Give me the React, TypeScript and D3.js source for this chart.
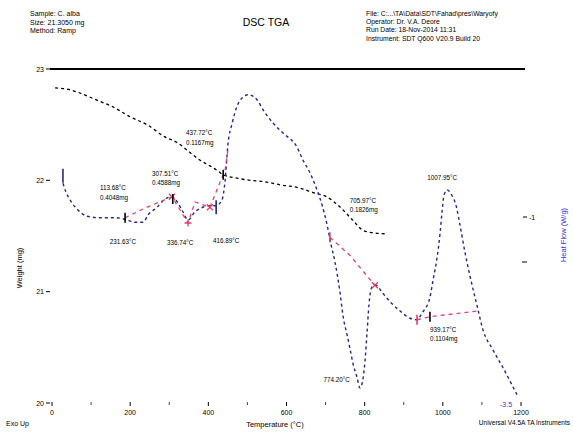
import React from "react";
import * as d3 from "d3";

// Weight curve (°C, mg)
const weightT = [8, 38, 67, 115, 156, 200, 243, 289, 320, 353, 379, 404, 422, 438, 473, 507, 540, 583, 635, 668, 704, 737, 770, 796, 819, 852];
const weightV = [22.83, 22.82, 22.79, 22.72, 22.66, 22.57, 22.5, 22.39, 22.34, 22.25, 22.18, 22.13, 22.09, 22.05, 22.02, 22.0, 21.99, 21.96, 21.93, 21.89, 21.85, 21.76, 21.64, 21.55, 21.53, 21.52];

// Heat flow curve (°C, W/g)
const hfT = [28, 36, 46, 67, 90, 123, 161, 187, 212, 233, 246, 269, 289, 307, 322, 335, 348, 366, 386, 404, 420, 435, 443, 450, 461, 473, 489, 502, 525, 540, 566, 591, 627, 642, 660, 678, 691, 704, 714, 724, 737, 745, 755, 763, 770, 780, 788, 796, 801, 806, 811, 819, 829, 844, 865, 890, 916, 934, 947, 967, 975, 985, 993, 998, 1003, 1011, 1023, 1034, 1044, 1057, 1070, 1087, 1103, 1128, 1154, 1180, 1190];
const hfV = [-0.55, -0.67, -0.77, -0.91, -0.99, -1.01, -1.01, -1.03, -1.07, -1.07, -0.97, -0.87, -0.76, -0.73, -0.81, -0.93, -1.04, -0.93, -0.87, -0.85, -0.85, -0.77, -0.51, -0.04, 0.25, 0.47, 0.6, 0.63, 0.56, 0.43, 0.25, 0.12, -0.07, -0.24, -0.41, -0.64, -0.84, -1.11, -1.37, -1.6, -2.01, -2.33, -2.57, -2.77, -2.95, -3.13, -3.28, -3.15, -2.91, -2.55, -2.17, -1.93, -1.91, -2.0, -2.13, -2.25, -2.35, -2.37, -2.28, -2.07, -1.84, -1.55, -1.21, -0.93, -0.71, -0.64, -0.71, -0.85, -1.11, -1.48, -1.8, -2.17, -2.51, -2.77, -3.01, -3.27, -3.37];

// Red analysis segments (°C, W/g)
const redSegT = [
  [187, 238, 289, 307, 348, 366, 404, 443, 450],
  [711, 762, 826],
  [934, 967, 1031, 1095],
];
const redSegV = [
  [-1.01, -0.88, -0.77, -0.73, -1.08, -0.8, -0.87, -0.37, -0.11],
  [-1.27, -1.51, -1.91],
  [-2.37, -2.33, -2.29, -2.25],
];

// Markers
const crossT = [307, 404, 826];
const crossV = [-0.73, -0.87, -1.91];
const plusT = [348];
const plusV = [-1.08];
const barBlackT = [187, 309, 967];
const barBlackV = [-1.01, -0.76, -2.33];
const barRedT = [711, 934];
const barRedV = [-1.27, -2.37];
const barBlueT = [28, 420];
const barBlueV = [-0.45, -0.87];

// Annotations
const annT = [123, 256, 148, 294, 412, 343, 762, 762, 960, 967];
const annV = [-0.64, -0.453, -1.36, -1.373, -1.347, 0.093, -0.813, -3.2, -0.507, -2.533];
const annText = [
  ["113.68°C", "0.4048mg"],
  ["307.51°C", "0.4588mg"],
  ["231.63°C"],
  ["336.74°C"],
  ["416.89°C"],
  ["437.72°C", "0.1167mg"],
  ["705.97°C", "0.1826mg"],
  ["774.20°C"],
  ["1007.95°C"],
  ["939.17°C", "0.1104mg"],
];
const annAnchorEnd = [false, false, false, false, false, false, false, true, false, false];

// Axes
const xMajor = [0, 200, 400, 600, 800, 1000, 1200];
const xMinor = [100, 300, 500, 700, 900, 1100];
const weightTicks = [20, 21, 22, 23];
const hfTicks = [-1];
const hfMinor = [-1.6];

const headerLeft = ["Sample: C. alba", "Size: 21.3050 mg", "Method: Ramp"];
const headerRight = [
  "File: C:...\\TA\\Data\\SDT\\Fahad\\pres\\Waryofy",
  "Operator: Dr. V.A. Deore",
  "Run Date: 18-Nov-2014 11:31",
  "Instrument: SDT Q600 V20.9 Build 20",
];

const FONT = "'Liberation Sans', Arial, sans-serif";

export default function App() {
  const x = d3.scaleLinear().domain([0, 1200]).range([52, 521]);
  const yW = d3.scaleLinear().domain([20, 23]).range([403, 69]);
  const yH = d3.scaleLinear().domain([-1, -2]).range([217, 292]);

  const wLine = d3
    .line<number>()
    .x((_, i) => x(weightT[i]))
    .y((d) => yW(d))
    .curve(d3.curveMonotoneX);
  const hLine = d3
    .line<number>()
    .x((_, i) => x(hfT[i]))
    .y((d) => yH(d))
    .curve(d3.curveMonotoneX);

  const navy = "#26268a";
  const red = "#d8436a";

  return (
    <svg
      width={573}
      height={432}
      style={{ position: "absolute", left: 0, top: 0, background: "#fff" }}
      fontFamily={FONT}
    >
      {/* header */}
      {headerLeft.map((t, i) => (
        <text key={"hl" + i} x={30} y={16 + i * 8.5} fontSize={7}>
          {t}
        </text>
      ))}
      <text x={266} y={26} fontSize={10.5} textAnchor="middle">
        DSC TGA
      </text>
      {headerRight.map((t, i) => (
        <text key={"hr" + i} x={366} y={16 + i * 8.2} fontSize={6.8}>
          {t}
        </text>
      ))}

      {/* top frame line */}
      <line x1={50} x2={525} y1={69} y2={69} stroke="#000" strokeWidth={2} />

      {/* left axis */}
      {weightTicks.map((v) => (
        <g key={"wt" + v}>
          <line x1={46} x2={50} y1={yW(v)} y2={yW(v)} stroke="#000" strokeWidth={1} />
          <text x={44} y={yW(v) + 2.5} fontSize={7} textAnchor="end">
            {v}
          </text>
        </g>
      ))}
      <text
        transform={`translate(22,${268}) rotate(-90)`}
        fontSize={7.5}
        textAnchor="middle"
      >
        Weight (mg)
      </text>

      {/* right axis */}
      {hfTicks.map((v) => (
        <g key={"ht" + v}>
          <line x1={523} x2={527} y1={yH(v)} y2={yH(v)} stroke="#000" strokeWidth={1} />
          <text x={529} y={yH(v) + 2.5} fontSize={7}>
            {v}
          </text>
        </g>
      ))}
      {hfMinor.map((v) => (
        <line key={"hm" + v} x1={522} x2={527} y1={yH(v)} y2={yH(v)} stroke="#000" strokeWidth={1} />
      ))}
      <text x={500} y={407} fontSize={7} fill="#3535c8">
        -3.5
      </text>
      <text
        transform={`translate(566,${235}) rotate(-90)`}
        fontSize={7.5}
        textAnchor="middle"
        fill="#3535c8"
      >
        Heat Flow (W/g)
      </text>

      {/* bottom axis */}
      {xMinor.map((v) => (
        <line key={"xm" + v} x1={x(v)} x2={x(v)} y1={402} y2={405} stroke="#444" strokeWidth={1} />
      ))}
      {xMajor.map((v) => (
        <g key={"xt" + v}>
          <line x1={x(v)} x2={x(v)} y1={402} y2={406} stroke="#000" strokeWidth={1} />
          <text x={x(v)} y={415} fontSize={7} textAnchor="middle">
            {v}
          </text>
        </g>
      ))}
      <text x={275} y={427} fontSize={7.5} textAnchor="middle">
        Temperature (°C)
      </text>
      <text x={6} y={426} fontSize={7}>
        Exo Up
      </text>
      <text x={570} y={425} fontSize={6.5} textAnchor="end">
        Universal V4.5A TA Instruments
      </text>

      {/* curves */}
      <path d={wLine(weightV) || ""} fill="none" stroke="#000" strokeWidth={1.3} strokeDasharray="3,3" />
      <path d={hLine(hfV) || ""} fill="none" stroke={navy} strokeWidth={1.4} strokeDasharray="3,3" />
      {redSegV.map((seg, si) => (
        <path
          key={"rs" + si}
          d={
            d3
              .line<number>()
              .x((_, i) => x(redSegT[si][i]))
              .y((d) => yH(d))(seg) || ""
          }
          fill="none"
          stroke={red}
          strokeWidth={1.3}
          strokeDasharray="4,4"
        />
      ))}

      {/* markers */}
      {crossV.map((v, i) => {
        const cx = x(crossT[i]);
        const cy = yH(v);
        return (
          <path
            key={"cx" + i}
            d={`M${cx - 3},${cy - 3}L${cx + 3},${cy + 3}M${cx - 3},${cy + 3}L${cx + 3},${cy - 3}`}
            stroke={red}
            strokeWidth={1.3}
          />
        );
      })}
      {plusV.map((v, i) => {
        const cx = x(plusT[i]);
        const cy = yH(v);
        return (
          <path
            key={"pl" + i}
            d={`M${cx - 3.5},${cy}L${cx + 3.5},${cy}M${cx},${cy - 3.5}L${cx},${cy + 3.5}`}
            stroke={red}
            strokeWidth={1.3}
          />
        );
      })}
      {barBlackV.map((v, i) => (
        <line key={"bb" + i} x1={x(barBlackT[i])} x2={x(barBlackT[i])} y1={yH(v) - 5} y2={yH(v) + 5} stroke="#000" strokeWidth={1.6} />
      ))}
      {barRedV.map((v, i) => (
        <line key={"br" + i} x1={x(barRedT[i])} x2={x(barRedT[i])} y1={yH(v) - 5} y2={yH(v) + 5} stroke={red} strokeWidth={1.6} />
      ))}
      {barBlueV.map((v, i) => (
        <line key={"bl" + i} x1={x(barBlueT[i])} x2={x(barBlueT[i])} y1={yH(v) - 7} y2={yH(v) + 7} stroke={navy} strokeWidth={1.6} />
      ))}
      <line x1={x(438)} x2={x(438)} y1={yW(22.05) - 5} y2={yW(22.05) + 5} stroke="#000" strokeWidth={1.6} />

      {/* annotations */}
      {annText.map((lines, i) => (
        <text
          key={"an" + i}
          x={x(annT[i])}
          y={yH(annV[i])}
          fontSize={6.3}
          textAnchor={annAnchorEnd[i] ? "end" : "start"}
        >
          {lines.map((l, j) => (
            <tspan key={j} x={x(annT[i])} dy={j === 0 ? 0 : 9.5}>
              {l}
            </tspan>
          ))}
        </text>
      ))}
    </svg>
  );
}
